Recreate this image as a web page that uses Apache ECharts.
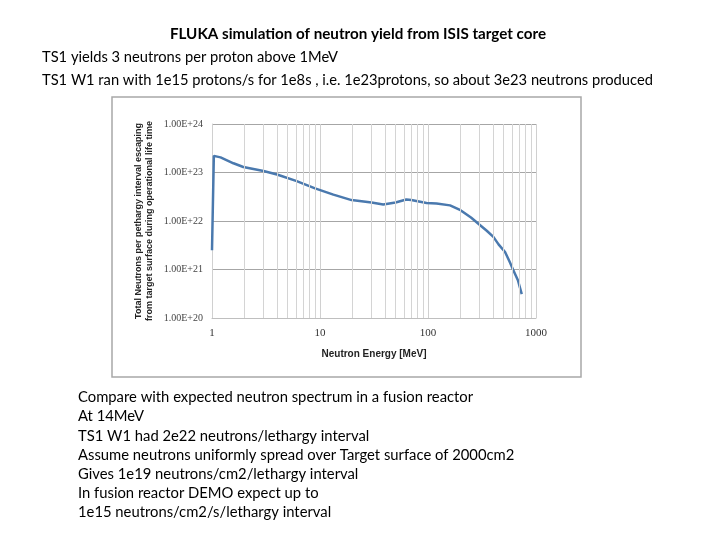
<!DOCTYPE html>
<html><head><meta charset="utf-8">
<script src="https://cdn.jsdelivr.net/npm/echarts@6/dist/echarts.min.js"></script>
<style>html,body{margin:0;padding:0;background:#fff}#c{width:720px;height:540px}</style>
</head><body><div id="c"></div>
<script>
// Data
const energyMeV = [1.0, 1.04, 1.2, 1.58, 1.95, 3, 4, 6, 9, 13.3, 19.6, 30, 38.5, 50, 63, 70, 97, 120, 160, 200, 250, 304, 350, 403, 450, 517, 570, 617, 680, 738];
const neutrons = [2.5e21, 2.2e23, 2.05e23, 1.55e23, 1.3e23, 1.07e23, 9.1e22, 6.7e22, 4.7e22, 3.5e22, 2.7e22, 2.4e22, 2.2e22, 2.4e22, 2.77e22, 2.7e22, 2.35e22, 2.3e22, 2.1e22, 1.67e22, 1.18e22, 8.2e21, 6.3e21, 4.7e21, 3.3e21, 2.3e21, 1.44e21, 9.7e20, 6.0e20, 3.1e20];
const minorX = [2,3,4,5,6,7,8,9,20,30,40,50,60,70,80,90,200,300,400,500,600,700,800,900];
const titleText = 'FLUKA simulation of neutron yield from ISIS target core';
const headerLines = [
  'TS1 yields 3 neutrons per proton above 1MeV',
  'TS1 W1 ran with 1e15 protons/s for 1e8s , i.e. 1e23protons, so about 3e23 neutrons produced'
];
const footerLines = [
  'Compare with expected neutron spectrum in a fusion reactor',
  'At 14MeV',
  'TS1 W1 had 2e22 neutrons/lethargy interval',
  'Assume neutrons uniformly spread over Target surface of 2000cm2',
  'Gives 1e19 neutrons/cm2/lethargy interval',
  'In fusion reactor DEMO expect up to',
  '1e15 neutrons/cm2/s/lethargy interval'
];
const xTitle = 'Neutron Energy [MeV]';
const yTitle = 'Total Neutrons per pethargy interval escaping\nfrom target surface during operational life time';

const FONT = 'Lato, "Open Sans", sans-serif';
const chart = echarts.init(document.getElementById('c'), null, {renderer: 'canvas'});

const graphics = [
  {type: 'rect', shape: {x: 112, y: 97, width: 469, height: 280}, style: {fill: 'none', stroke: '#a8a8a8', lineWidth: 1.5}, z: -1},
  {type: 'text', x: 358, y: 34, style: {text: titleText, font: 'bold 15.2px ' + FONT, fill: '#000', align: 'center', verticalAlign: 'middle'}}
];
headerLines.forEach((t, i) => graphics.push({type: 'text', x: 42, y: 57 + i * 23, style: {text: t, font: '14.7px ' + FONT, fill: '#000', align: 'left', verticalAlign: 'middle'}}));
footerLines.forEach((t, i) => graphics.push({type: 'text', x: 78, y: 397.5 + i * 19.2, style: {text: t, font: '14.8px ' + FONT, fill: '#000', align: 'left', verticalAlign: 'middle'}}));

chart.setOption({
  backgroundColor: '#fff',
  animation: false,
  grid: {left: 212, right: 184, top: 124, bottom: 222},
  xAxis: {
    type: 'log', logBase: 10, min: 1, max: 1000,
    name: xTitle, nameLocation: 'middle', nameGap: 31,
    nameTextStyle: {fontFamily: 'Liberation Sans', fontWeight: 'bold', fontSize: 10, color: '#222'},
    axisLine: {show: true, lineStyle: {color: '#bfbfbf'}},
    axisTick: {show: false},
    axisLabel: {fontFamily: 'Liberation Serif', fontSize: 11, color: '#333', margin: 10,
      formatter: v => String(Math.round(v))},
    splitLine: {show: true, lineStyle: {color: '#d0d0d0', width: 1}}
  },
  yAxis: {
    type: 'log', logBase: 10, min: 1e20, max: 1e24, splitNumber: 4,
    name: yTitle, nameLocation: 'middle', nameGap: 57, nameRotate: 90,
    nameTextStyle: {fontFamily: 'Liberation Sans', fontWeight: 'bold', fontSize: 9, color: '#222', lineHeight: 11},
    axisLine: {show: true, lineStyle: {color: '#d0d0d0'}},
    axisTick: {show: false},
    axisLabel: {fontFamily: 'Liberation Serif', fontSize: 10, color: '#444', margin: 9,
      formatter: v => '1.00E+' + Math.round(Math.log10(v))},
    splitLine: {show: true, lineStyle: {color: '#a6a6a6', width: 1}}
  },
  graphic: graphics,
  series: [
    {
      type: 'line', data: [], z: 1, silent: true,
      markLine: {silent: true, symbol: ['none', 'none'], label: {show: false},
        lineStyle: {color: '#d4d4d4', type: 'solid', width: 1},
        data: minorX.map(v => ({xAxis: v}))}
    },
    {
      type: 'line', z: 3,
      data: energyMeV.map((e, i) => [e, neutrons[i]]),
      showSymbol: false, smooth: false,
      lineStyle: {color: '#4a79ae', width: 2.5}
    }
  ]
});
</script></body></html>
